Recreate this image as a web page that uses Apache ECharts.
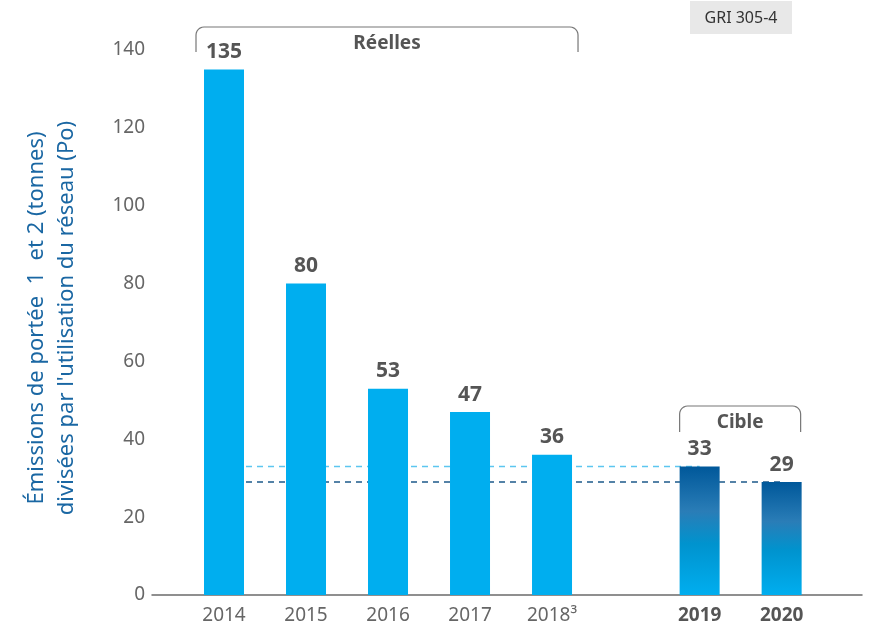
<!DOCTYPE html>
<html>
<head>
<meta charset="utf-8">
<script src="https://cdn.jsdelivr.net/npm/echarts@6/dist/echarts.min.js"></script>
<style>
  html, body { margin: 0; padding: 0; background: #fff; }
  #chart_box { width: 881px; height: 631px; }
</style>
</head>
<body>
<div id="chart_box"></div>
<script>
// données
var years = ["2014", "2015", "2016", "2017", "2018³", "2019", "2020"];
var values = [135, 80, 53, 47, 36, 33, 29];
var isTarget = [false, false, false, false, false, true, true];
// position des barres sur l'axe (écart entre réelles et cible)
var xPos = [0, 1, 2, 3, 4, 5.8, 6.8];
var target2019 = 33;
var target2020 = 29;

var FONT = "Noto Sans";
var blue = "#00aeef";
var targetFill = new echarts.graphic.LinearGradient(0, 0, 0, 1, [
  { offset: 0, color: "#00589a" },
  { offset: 0.35, color: "#2a7db7" },
  { offset: 0.6, color: "#0093ce" },
  { offset: 1, color: "#00aeef" }
]);

var barData = values.map(function (v, i) {
  return {
    value: [xPos[i], v],
    itemStyle: { color: isTarget[i] ? targetFill : blue }
  };
});

var chart = echarts.init(document.getElementById("chart_box"));

var option = {
  animation: false,
  grid: { left: 152, right: 19, top: 50, bottom: 36 },
  xAxis: {
    type: "value",
    min: -0.878,
    max: 7.78,
    splitLine: { show: false },
    axisLine: { show: true, lineStyle: { color: "#6b6b6b", width: 1.5 } },
    axisTick: { show: false },
    axisLabel: {
      customValues: xPos,
      margin: 11,
      fontFamily: FONT,
      fontSize: 19,
      color: "#666",
      formatter: function (v) {
        var i = xPos.indexOf(v);
        if (i < 0) return "";
        return isTarget[i] ? "{b|" + years[i] + "}" : years[i];
      },
      rich: {
        b: { fontFamily: FONT, fontSize: 19, fontWeight: "bold", color: "#555" }
      }
    }
  },
  yAxis: {
    type: "value",
    min: 0,
    max: 140,
    interval: 20,
    splitLine: { show: false },
    axisLine: { show: false },
    axisTick: { show: false },
    axisLabel: {
      margin: 7,
      fontFamily: FONT,
      fontSize: 19,
      color: "#666"
    }
  },
  series: [
    {
      name: "cible 2019",
      type: "line",
      z: 1,
      symbol: "none",
      silent: true,
      lineStyle: { color: "#5cc6f0", type: [6, 5], width: 1.5 },
      data: [[xPos[0], target2019], [xPos[5], target2019]]
    },
    {
      name: "cible 2020",
      type: "line",
      z: 1,
      symbol: "none",
      silent: true,
      lineStyle: { color: "#1d5a8a", type: [6, 5], width: 1.5 },
      data: [[xPos[0], target2020], [xPos[6], target2020]]
    },
    {
      name: "émissions",
      type: "bar",
      z: 3,
      barWidth: 40,
      data: barData,
      label: {
        show: true,
        position: "top",
        distance: 7,
        fontFamily: FONT,
        fontSize: 21,
        fontWeight: "bold",
        color: "#555",
        formatter: function (p) { return p.value[1]; }
      }
    }
  ]
};

chart.setOption(option);

// accolade arrondie en polyligne
function bracket(x1, x2, yTop, yBottom, label, labelY) {
  var r = 8, pts = [[x1, yBottom]], k, a;
  for (k = 0; k <= 6; k++) {
    a = Math.PI - (k / 6) * Math.PI / 2;
    pts.push([x1 + r + r * Math.cos(a), yTop + r - r * Math.sin(a)]);
  }
  for (k = 0; k <= 6; k++) {
    a = Math.PI / 2 - (k / 6) * Math.PI / 2;
    pts.push([x2 - r + r * Math.cos(a), yTop + r - r * Math.sin(a)]);
  }
  pts.push([x2, yBottom]);
  return [
    {
      type: "polyline",
      shape: { points: pts },
      style: { fill: null, stroke: "#777", lineWidth: 1.2 }
    },
    {
      type: "text",
      x: (x1 + x2) / 2,
      y: labelY,
      style: {
        text: label,
        align: "center",
        verticalAlign: "middle",
        fontFamily: FONT,
        fontSize: 19,
        fontWeight: "bold",
        fill: "#555"
      }
    }
  ];
}

var px = function (i) { return chart.convertToPixel({ gridIndex: 0 }, [xPos[i], 0])[0]; };

var graphics = []
  .concat(bracket(px(0) - 28, px(4) + 26, 27, 52, "Réelles", 44))
  .concat(bracket(px(5) - 20, px(6) + 19, 406, 432, "Cible", 423));

graphics.push({
  type: "rect",
  shape: { x: 690, y: 1, width: 102, height: 33 },
  style: { fill: "#e8e8e8" }
});
graphics.push({
  type: "text",
  x: 741,
  y: 18,
  style: {
    text: "GRI 305-4",
    align: "center",
    verticalAlign: "middle",
    fontFamily: FONT,
    fontSize: 16,
    fill: "#333"
  }
});
graphics.push({
  type: "text",
  x: 52,
  y: 318,
  rotation: Math.PI / 2,
  style: {
    text: "Émissions de portée  1  et 2 (tonnes)\ndivisées par l'utilisation du réseau (Po)",
    align: "center",
    verticalAlign: "middle",
    lineHeight: 30,
    fontFamily: FONT,
    fontSize: 22,
    fill: "#1a67a3"
  }
});

chart.setOption({ graphic: graphics });
</script>
</body>
</html>
